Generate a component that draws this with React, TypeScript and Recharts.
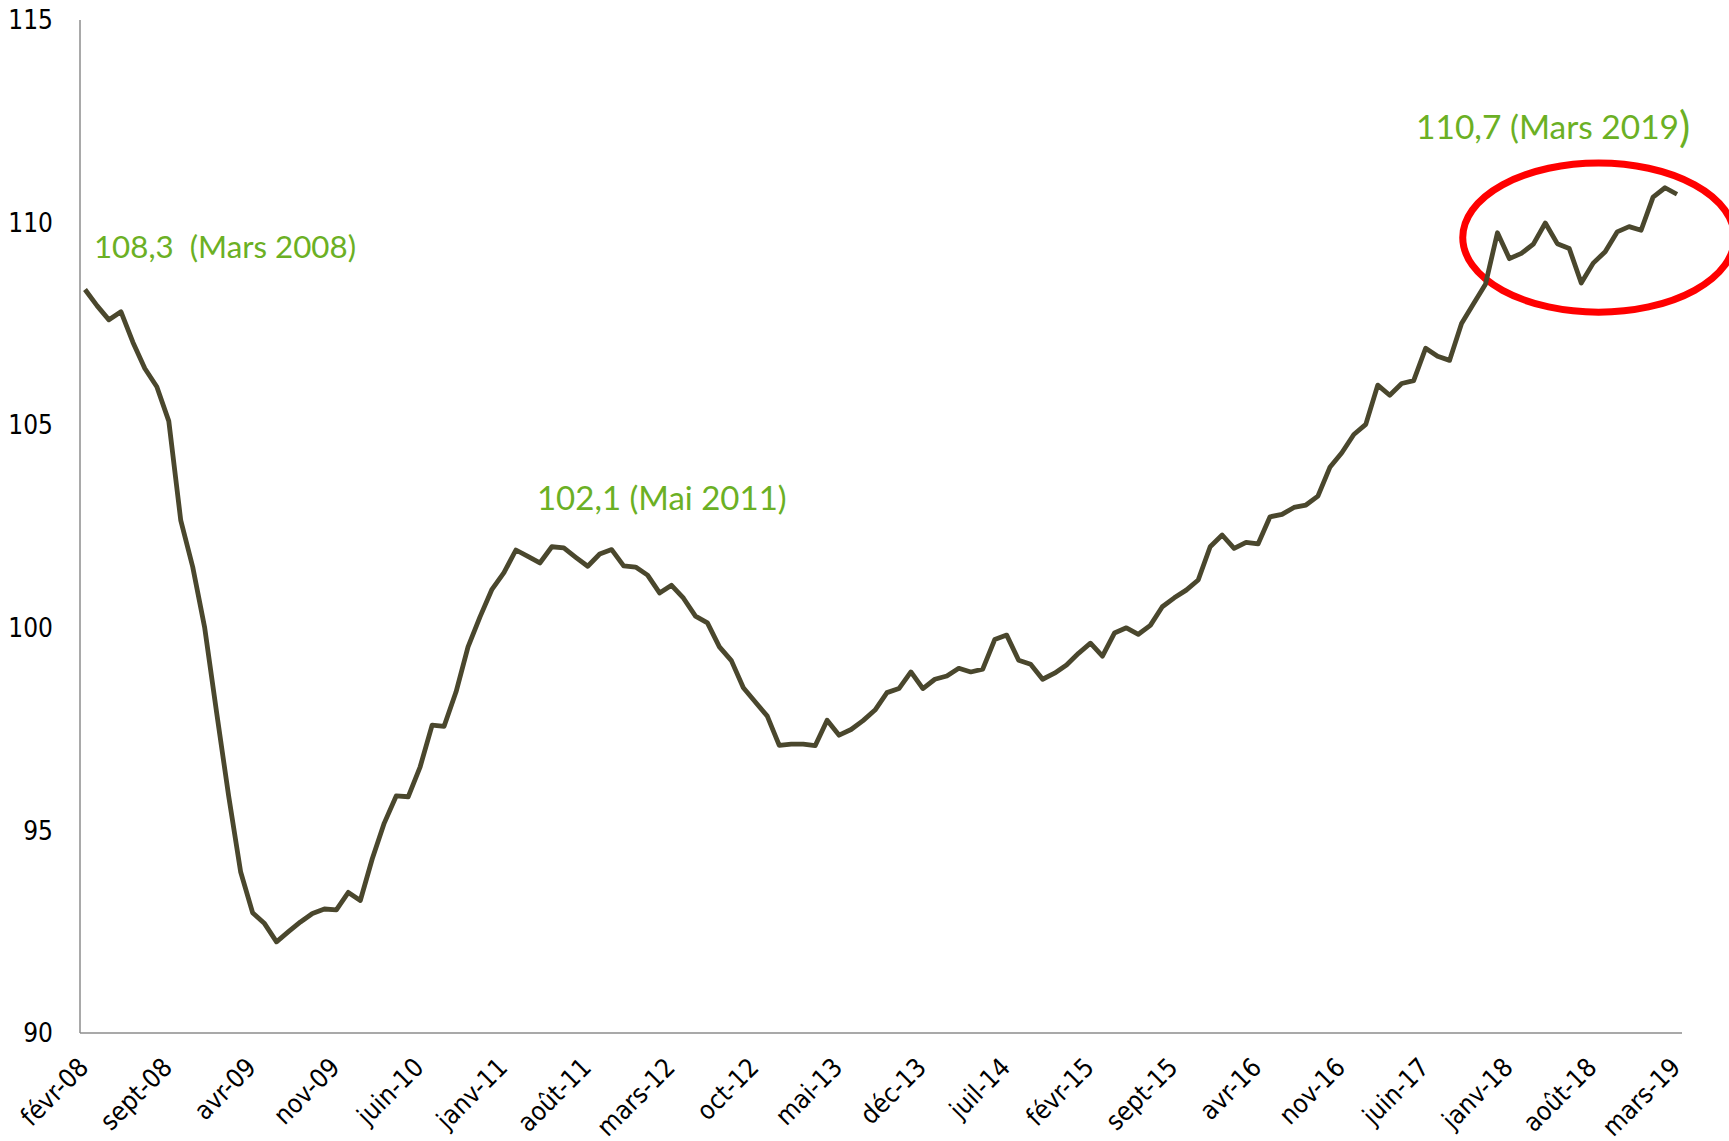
import React from "react";
import { Line, LineChart, ReferenceArea, ReferenceDot, XAxis, YAxis } from "recharts";

// Month names used for the category labels (series starts in févr-08).
const MONTHS = ["janv", "févr", "mars", "avr", "mai", "juin", "juil", "août", "sept", "oct", "nov", "déc"];
const START_YEAR = 2008;
const START_MONTH = 1;

// Monthly index values, févr-08 .. mars-19.
const VALUES = [
  108.35, 107.95, 107.6, 107.8, 107.05, 106.4, 105.95, 105.1, 102.65, 101.5,
  100.0, 97.9, 95.85, 93.98, 92.97, 92.7, 92.25, 92.5, 92.74, 92.95,
  93.06, 93.04, 93.47, 93.27, 94.3, 95.18, 95.85, 95.83, 96.57, 97.6,
  97.57, 98.42, 99.53, 100.27, 100.95, 101.36, 101.92, 101.76, 101.6, 102.0,
  101.97, 101.74, 101.52, 101.82, 101.93, 101.53, 101.5, 101.3, 100.86, 101.05,
  100.73, 100.29, 100.12, 99.53, 99.19, 98.52, 98.17, 97.82, 97.1, 97.13,
  97.13, 97.09, 97.72, 97.35, 97.49, 97.71, 97.97, 98.4, 98.5, 98.91,
  98.5, 98.73, 98.81, 99.0, 98.91, 98.98, 99.71, 99.82, 99.2, 99.1,
  98.73, 98.88, 99.08, 99.37, 99.62, 99.3, 99.87, 100.0, 99.84, 100.06,
  100.52, 100.74, 100.93, 101.18, 102.0, 102.29, 101.96, 102.11, 102.07, 102.74,
  102.8, 102.97, 103.03, 103.25, 103.96, 104.32, 104.77, 105.02, 105.99, 105.74,
  106.03, 106.1, 106.9, 106.7, 106.6, 107.51, 108.0, 108.48, 109.75, 109.11,
  109.24, 109.47, 109.99, 109.48, 109.36, 108.51, 109.0, 109.28, 109.77, 109.9,
  109.81, 110.63, 110.86, 110.7,
];

const X_TICKS = [0, 7, 14, 21, 28, 35, 42, 49, 56, 63, 70, 77, 84, 91, 98, 105, 112, 119, 126, 133];
const Y_TICKS = [90, 95, 100, 105, 110, 115];

// Green annotations: text, anchor month index, anchor value.
const NOTE_TEXTS = ["108,3  (Mars 2008)", "102,1 (Mai 2011)", "110,7 (Mars 2019"];
const NOTE_X = [0.75, 37.76, 111.2];
const NOTE_Y = [109.42, 103.22, 112.38];
const NOTE_SIZE = [31.3, 33, 33.5];

// Red ellipse around the last year.
const RING_X = [115.1, 137.8];
const RING_Y = [107.79, 111.47];

const LABELS = VALUES.map((_, i) => {
  const m = START_MONTH + i;
  const yy = String((START_YEAR + Math.floor(m / 12)) % 100).padStart(2, "0");
  return `${MONTHS[m % 12]}-${yy}`;
});
const data = VALUES.map((v, i) => ({ i, v }));

const AXIS_FONT = "'Liberation Sans Narrow', 'DejaVu Sans Condensed', sans-serif";
const NOTE_FONT = "Lato, 'Open Sans', sans-serif";
const GREEN = "#6bb024";

function XTick({ x, y, payload }: any) {
  const ax = x + 5;
  const ay = y + 36;
  return (
    <text
      x={ax}
      y={ay}
      transform={`rotate(-45 ${ax} ${ay})`}
      textAnchor="end"
      fontSize={26}
      fontFamily={AXIS_FONT}
      fill="#000"
    >
      {LABELS[payload.value]}
    </text>
  );
}

function noteShape(idx: number) {
  return (p: any) => (
    <text
      x={p.cx}
      y={p.cy}
      dominantBaseline="central"
      fontSize={NOTE_SIZE[idx]}
      fontFamily={NOTE_FONT}
      fill={GREEN}
      style={{ whiteSpace: "pre" }}
    >
      {NOTE_TEXTS[idx]}
      {idx === 2 ? <tspan fontSize={42}>)</tspan> : null}
    </text>
  );
}

function Ring(p: any) {
  return (
    <ellipse
      cx={p.x + p.width / 2}
      cy={p.y + p.height / 2}
      rx={Math.abs(p.width) / 2}
      ry={Math.abs(p.height) / 2}
      fill="none"
      stroke="#ff0000"
      strokeWidth={7}
    />
  );
}

export default function App() {
  return (
    <div style={{ position: "absolute", left: 0, top: 0, width: 1729, height: 1141, background: "#fff" }}>
      <LineChart width={1729} height={1141} data={data} margin={{ top: 20, right: 47, bottom: 8, left: 0 }}>
        <XAxis
          dataKey="i"
          type="number"
          domain={[0, 133]}
          ticks={X_TICKS}
          interval={0}
          tick={<XTick />}
          tickLine={false}
          tickSize={0}
          tickMargin={0}
          axisLine={{ stroke: "#8c8c8c", strokeWidth: 1.5 }}
          height={100}
          padding={{ left: 5, right: 5 }}
        />
        <YAxis
          domain={[90, 115]}
          ticks={Y_TICKS}
          interval={0}
          width={80}
          tickLine={false}
          tickSize={0}
          tickMargin={27}
          axisLine={{ stroke: "#8c8c8c", strokeWidth: 1.5 }}
          tick={{ fill: "#000", fontSize: 26, fontFamily: AXIS_FONT }}
        />
        <Line
          type="linear"
          dataKey="v"
          stroke="#4a472d"
          strokeWidth={4.8}
          strokeLinejoin="round"
          dot={false}
          isAnimationActive={false}
        />
        <ReferenceArea
          x1={RING_X[0]}
          x2={RING_X[1]}
          y1={RING_Y[0]}
          y2={RING_Y[1]}
          ifOverflow="visible"
          shape={Ring}
        />
        {NOTE_TEXTS.map((_, k) => (
          <ReferenceDot key={k} x={NOTE_X[k]} y={NOTE_Y[k]} r={0} ifOverflow="visible" shape={noteShape(k)} />
        ))}
      </LineChart>
    </div>
  );
}
